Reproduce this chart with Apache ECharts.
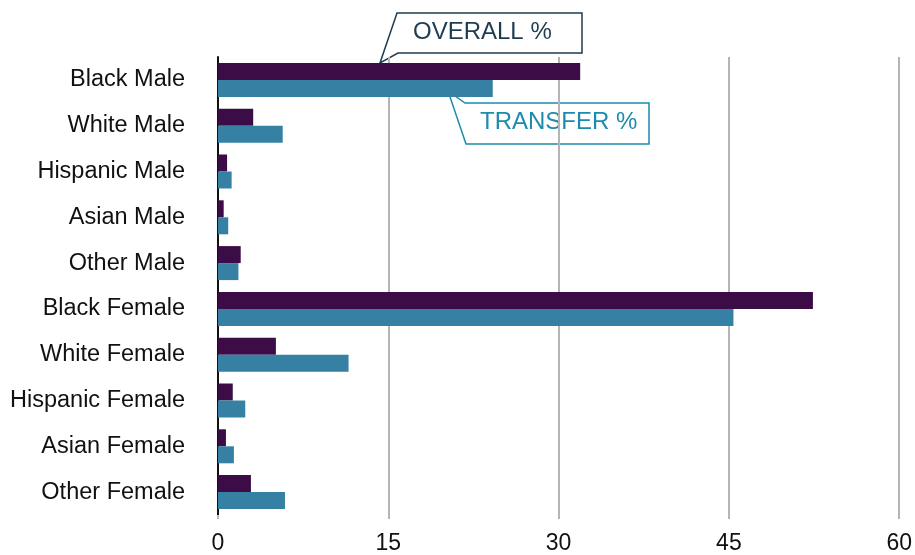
<!DOCTYPE html>
<html lang="en">
<head>
    <meta charset="utf-8"/>
    <title>Overall vs Transfer</title>
    <script src="https://cdn.jsdelivr.net/npm/echarts@6/dist/echarts.min.js"></script>
</head>
<body style="margin:0;background:#fff">
<div id="echarts" style="width:915px;height:555px;"></div>
<script type="text/javascript">
    var groups = ['Black Male', 'White Male', 'Hispanic Male', 'Asian Male', 'Other Male',
        'Black Female', 'White Female', 'Hispanic Female', 'Asian Female', 'Other Female'];
    var overall = [31.9, 3.1, 0.8, 0.5, 2.0, 52.4, 5.1, 1.3, 0.7, 2.9];
    var transfer = [24.2, 5.7, 1.2, 0.9, 1.8, 45.4, 11.5, 2.4, 1.4, 5.9];
    var xTicks = [0, 15, 30, 45, 60];

    var font = 'Liberation Sans, Arial, Helvetica, sans-serif';
    var myChart = echarts.init(document.getElementById('echarts'));
    var option = {
        animation: false,
        textStyle: {fontFamily: font},
        grid: {left: 218, right: 10, top: 57, bottom: 37, containLabel: false},
        xAxis: {
            type: 'value',
            min: xTicks[0],
            max: xTicks[xTicks.length - 1],
            interval: 15,
            axisLine: {show: false},
            axisTick: {show: true, length: 4, lineStyle: {color: '#b5b5b5', width: 2}},
            splitLine: {show: true, lineStyle: {color: '#b5b5b5', width: 2}},
            axisLabel: {color: '#111', fontSize: 23, margin: 17, fontFamily: font}
        },
        yAxis: {
            type: 'category',
            data: groups,
            inverse: true,
            axisLine: {show: true, lineStyle: {color: '#111', width: 2}},
            axisTick: {show: false},
            axisLabel: {color: '#111', fontSize: 23.5, margin: 33, fontFamily: font}
        },
        // 标注框
        graphic: [
            {
                type: 'polygon',
                shape: {points: [[397, 13], [582, 13], [582, 53], [398, 53], [380, 63]]},
                style: {fill: '#fff', stroke: '#1d3c52', lineWidth: 1.5}
            },
            {
                type: 'text', left: 413, top: 20,
                style: {text: 'OVERALL %', fill: '#1d3c52', fontSize: 24, fontFamily: font}
            },
            {
                type: 'polygon',
                shape: {points: [[448, 91], [465, 103], [649, 103], [649, 144], [466, 144]]},
                style: {fill: '#fff', stroke: '#1c8bac', lineWidth: 1.5}
            },
            {
                type: 'text', left: 480, top: 110,
                style: {text: 'TRANSFER %', fill: '#1c8bac', fontSize: 24, fontFamily: font}
            }
        ],
        series: [
            {
                name: 'OVERALL %', type: 'bar', data: overall,
                barWidth: 17, barGap: '0%',
                itemStyle: {color: '#3c0c47'}
            },
            {
                name: 'TRANSFER %', type: 'bar', data: transfer,
                barWidth: 17, barGap: '0%',
                itemStyle: {color: '#3580a3'}
            }
        ]
    };
    myChart.setOption(option);
</script>
</body>
</html>
